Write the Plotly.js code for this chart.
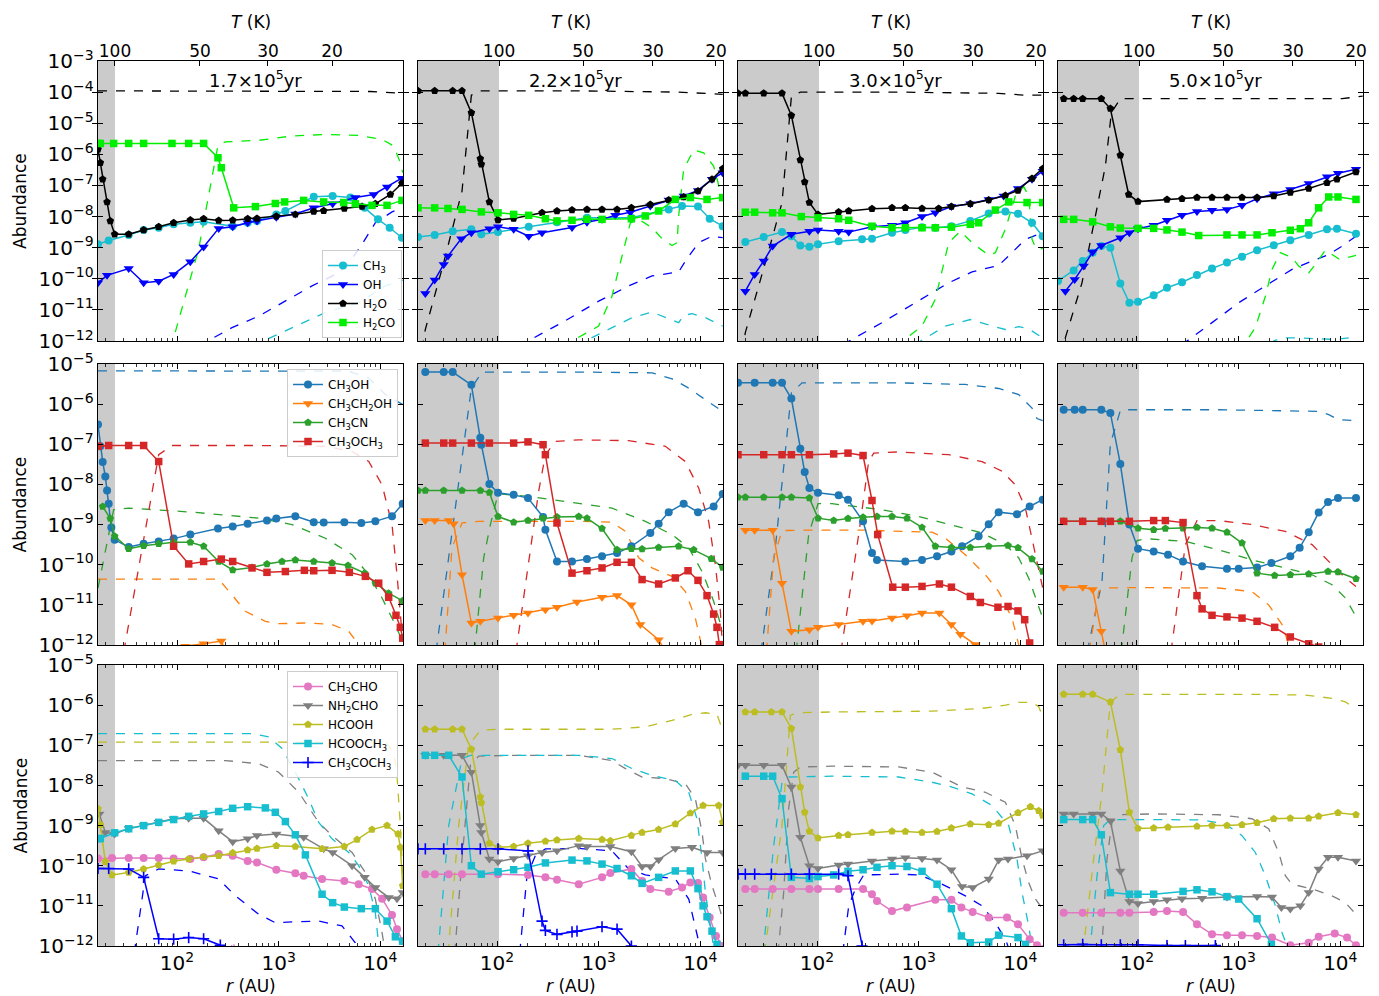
<!DOCTYPE html>
<html><head><meta charset="utf-8">
<script src="https://cdn.plot.ly/plotly-3.0.1.min.js"></script>
<style>html,body{margin:0;padding:0;background:#fff}#chart{width:1379px;height:996px}</style>
</head><body><div id="chart"></div>
<script>
// Every point below is [log10(r / AU), log10(abundance)].
const timeLabels = ['1.7×10<sup>5</sup>yr', '2.2×10<sup>5</sup>yr', '3.0×10<sup>5</sup>yr', '5.0×10<sup>5</sup>yr'];
const tempTicks = [100, 50, 30, 20];
// log10(r/AU) where the temperature equals tempTicks, one list per time
const tempRadius1 = [1.39, 2.226, 2.895, 3.525];
const tempRadius2 = [2.02, 2.846, 3.534, 4.154];
const tempRadius3 = [2.02, 2.846, 3.534, 4.154];
const tempRadius4 = [2.02, 2.846, 3.534, 4.154];
// log10(r/AU) of the T > 100 K (shaded) region edge per time
const hotEdge = [1.39, 2.02, 2.02, 2.02];
const rRange = [1.223, 4.223];

// ---------- Row 1 : CH3, OH, H2O, H2CO ----------
const CH3_gas_1 = [[1.223,-8.89],[1.328,-8.77],[1.525,-8.59],[1.672,-8.43],[1.820,-8.36],[1.967,-8.25],[2.131,-8.20],[2.262,-8.17],[2.548,-8.31],[2.695,-8.20],[2.787,-8.14],[2.977,-7.93],[3.066,-7.82],[3.345,-7.36],[3.531,-7.34],[3.705,-7.39],[3.846,-7.72],[3.977,-8.09],[4.092,-8.36],[4.213,-8.68]];
const CH3_ice_1 = [[2.738,-12.16],[3.131,-11.57],[3.459,-11.09],[3.787,-10.77],[3.951,-10.45],[4.050,-10.23],[4.220,-10.04]];
const OH_gas_1 = [[1.223,-10.13],[1.312,-9.89],[1.525,-9.67],[1.672,-10.13],[1.820,-10.08],[1.967,-9.86],[2.131,-9.45],[2.262,-8.98],[2.410,-8.38],[2.548,-8.33],[2.695,-8.20],[2.787,-8.14],[2.977,-8.02],[3.164,-7.92],[3.345,-7.72],[3.531,-7.59],[3.754,-7.39],[3.935,-7.29],[4.066,-7.05],[4.207,-6.77]];
const OH_ice_1 = [[2.213,-12.16],[2.541,-11.57],[2.804,-11.20],[3.066,-10.72],[3.328,-10.23],[3.590,-9.81],[3.705,-9.43],[3.820,-8.89],[3.951,-8.20],[4.115,-7.85],[4.220,-7.72]];
const H2O_gas_1 = [[1.223,-5.84],[1.246,-6.27],[1.269,-6.80],[1.312,-7.53],[1.344,-8.14],[1.387,-8.57],[1.525,-8.57],[1.672,-8.43],[1.820,-8.33],[1.967,-8.20],[2.131,-8.11],[2.262,-8.07],[2.410,-8.13],[2.548,-8.12],[2.695,-8.07],[2.787,-8.06],[2.977,-7.99],[3.164,-7.93],[3.345,-7.84],[3.443,-7.81],[3.646,-7.74],[3.820,-7.68],[3.951,-7.59],[4.099,-7.29],[4.213,-6.93]];
const H2O_ice_1 = [[1.223,-3.96],[3.600,-3.96],[3.900,-3.98],[4.220,-4.04]];
const H2CO_gas_1 = [[1.223,-5.65],[1.246,-5.65],[1.377,-5.65],[1.525,-5.65],[1.672,-5.65],[1.951,-5.65],[2.115,-5.65],[2.262,-5.65],[2.403,-6.11],[2.436,-6.43],[2.558,-7.72],[2.771,-7.68],[2.967,-7.58],[3.059,-7.53],[3.246,-7.48],[3.443,-7.53],[3.640,-7.55],[3.754,-7.59],[3.918,-7.64],[4.066,-7.64],[4.213,-7.48]];
const H2CO_ice_1 = [[1.935,-12.27],[2.213,-9.05],[2.403,-5.71],[2.476,-5.60],[2.804,-5.55],[3.131,-5.41],[3.459,-5.36],[3.787,-5.39],[4.017,-5.52],[4.131,-5.73],[4.197,-6.27],[4.220,-6.59]];

const CH3_gas_2 = [[1.223,-8.66],[1.387,-8.59],[1.564,-8.47],[1.748,-8.41],[1.846,-8.57],[2.010,-8.50],[2.312,-8.33],[2.590,-8.18],[2.885,-8.04],[3.322,-8.04],[3.689,-7.77],[3.820,-7.66],[3.977,-7.68],[4.092,-8.07],[4.220,-8.31]];
const CH3_ice_2 = [[2.771,-12.16],[3.131,-11.57],[3.328,-11.25],[3.525,-11.07],[3.787,-11.41],[3.836,-11.18],[3.918,-11.12],[4.050,-11.25],[4.220,-11.52]];
const OH_gas_2 = [[1.295,-10.47],[1.387,-10.04],[1.476,-9.54],[1.518,-9.27],[1.649,-8.71],[1.748,-8.52],[1.925,-8.39],[2.010,-8.33],[2.164,-8.41],[2.312,-8.63],[2.443,-8.52],[2.738,-8.35],[2.885,-8.18],[3.033,-8.09],[3.164,-7.96],[3.312,-7.86],[3.508,-7.66],[3.689,-7.47],[3.836,-7.34],[3.977,-7.16],[4.115,-6.80],[4.220,-6.59]];
const OH_ice_2 = [[2.213,-12.16],[2.279,-12.04],[2.640,-11.41],[3.000,-10.72],[3.295,-10.23],[3.525,-9.91],[3.787,-9.78],[3.853,-9.43],[3.984,-8.84],[4.115,-8.63],[4.220,-8.68]];
const H2O_gas_2 = [[1.223,-3.96],[1.387,-3.96],[1.564,-3.96],[1.656,-3.96],[1.748,-4.66],[1.836,-6.14],[1.846,-6.32],[1.925,-7.53],[2.010,-8.11],[2.164,-8.06],[2.443,-7.88],[2.590,-7.82],[2.738,-7.79],[2.885,-7.77],[3.033,-7.77],[3.181,-7.77],[3.322,-7.72],[3.508,-7.61],[3.689,-7.47],[3.836,-7.37],[3.977,-7.18],[4.115,-6.80],[4.220,-6.46]];
const H2O_ice_2 = [[1.262,-12.27],[1.295,-11.63],[1.476,-9.48],[1.656,-7.18],[1.748,-4.10],[1.836,-3.96],[2.804,-3.96],[3.787,-4.00],[4.220,-4.07]];
const H2CO_gas_2 = [[1.223,-7.72],[1.387,-7.72],[1.518,-7.74],[1.656,-7.77],[1.846,-7.85],[2.010,-7.88],[2.164,-7.93],[2.312,-7.96],[2.476,-8.07],[2.590,-8.14],[2.738,-8.12],[2.885,-8.09],[3.033,-8.09],[3.322,-8.07],[3.459,-7.98],[3.590,-7.82],[3.754,-7.45],[3.902,-7.39],[4.066,-7.45],[4.220,-7.39]];
const H2CO_ice_2 = [[2.656,-12.22],[2.705,-12.06],[3.000,-11.52],[3.131,-10.56],[3.263,-8.84],[3.312,-8.20],[3.394,-8.09],[3.525,-8.36],[3.623,-8.71],[3.722,-8.93],[3.771,-8.84],[3.787,-7.98],[3.836,-6.48],[3.935,-5.86],[4.033,-5.95],[4.131,-6.38],[4.174,-6.91],[4.207,-7.45]];

const CH3_gas_3 = [[1.295,-8.82],[1.476,-8.66],[1.656,-8.50],[1.748,-8.63],[1.836,-8.93],[1.925,-8.97],[2.010,-8.89],[2.213,-8.79],[2.443,-8.73],[2.541,-8.71],[2.738,-8.52],[2.869,-8.43],[3.033,-8.34],[3.164,-8.36],[3.322,-8.31],[3.508,-8.14],[3.689,-7.90],[3.853,-7.84],[3.977,-7.91],[4.115,-8.20],[4.220,-8.63]];
const CH3_ice_3 = [[2.967,-12.16],[3.000,-12.04],[3.263,-11.52],[3.508,-11.31],[3.722,-11.52],[3.853,-11.63],[3.984,-11.54],[4.082,-11.61],[4.220,-11.90]];
const OH_gas_3 = [[1.295,-10.40],[1.387,-9.86],[1.476,-9.43],[1.564,-8.95],[1.748,-8.57],[1.925,-8.47],[2.010,-8.43],[2.213,-8.47],[2.312,-8.50],[2.541,-8.33],[2.738,-8.28],[2.869,-8.20],[3.033,-8.00],[3.164,-7.88],[3.322,-7.68],[3.508,-7.59],[3.689,-7.45],[3.836,-7.34],[3.977,-7.10],[4.115,-6.80],[4.220,-6.54]];
const OH_ice_3 = [[2.262,-12.16],[2.295,-12.04],[2.640,-11.41],[3.000,-10.72],[3.295,-10.13],[3.525,-9.78],[3.689,-9.64],[3.787,-9.57],[3.918,-9.16],[4.050,-8.73],[4.220,-8.52]];
const H2O_gas_3 = [[1.223,-4.04],[1.295,-4.04],[1.476,-4.04],[1.656,-4.04],[1.748,-4.75],[1.836,-6.18],[1.879,-6.89],[1.925,-7.55],[2.010,-7.93],[2.213,-7.85],[2.312,-7.82],[2.541,-7.75],[2.738,-7.72],[2.869,-7.72],[3.033,-7.74],[3.197,-7.74],[3.322,-7.68],[3.508,-7.59],[3.689,-7.47],[3.853,-7.32],[3.977,-7.16],[4.115,-6.78],[4.220,-6.46]];
const H2O_ice_3 = [[1.262,-12.38],[1.295,-11.73],[1.492,-9.48],[1.656,-7.55],[1.748,-4.15],[1.836,-4.00],[2.804,-4.00],[3.787,-4.04],[4.050,-4.10],[4.220,-4.10]];
const H2CO_gas_3 = [[1.295,-7.86],[1.387,-7.86],[1.564,-7.88],[1.656,-7.88],[1.846,-8.00],[2.010,-8.04],[2.213,-8.07],[2.312,-8.12],[2.541,-8.31],[2.738,-8.36],[2.869,-8.36],[3.033,-8.36],[3.164,-8.36],[3.322,-8.34],[3.508,-8.25],[3.590,-8.20],[3.754,-7.79],[3.886,-7.53],[4.066,-7.55],[4.220,-7.55]];
const H2CO_ice_3 = [[2.787,-12.22],[2.820,-12.06],[3.033,-11.52],[3.164,-10.66],[3.295,-8.84],[3.410,-8.47],[3.525,-8.84],[3.689,-9.25],[3.754,-9.16],[3.853,-8.41],[3.951,-7.34],[4.033,-7.04],[4.082,-7.34],[4.115,-8.73],[4.154,-9.03],[4.220,-9.03]];

const CH3_gas_4 = [[1.223,-10.07],[1.377,-9.73],[1.466,-9.43],[1.564,-9.16],[1.649,-8.95],[1.738,-9.00],[1.836,-10.15],[1.925,-10.77],[2.010,-10.74],[2.164,-10.53],[2.295,-10.29],[2.443,-10.11],[2.590,-9.88],[2.738,-9.67],[2.885,-9.48],[3.033,-9.29],[3.181,-9.08],[3.345,-8.92],[3.508,-8.76],[3.689,-8.59],[3.869,-8.41],[3.967,-8.39],[4.154,-8.55]];
const CH3_ice_4 = [[3.328,-12.16],[3.345,-12.00],[3.427,-11.90],[3.590,-11.90],[3.787,-11.93],[3.951,-11.95],[4.154,-11.87]];
const OH_gas_4 = [[1.295,-10.40],[1.387,-10.02],[1.476,-9.59],[1.564,-9.14],[1.649,-8.93],[1.836,-8.68],[1.925,-8.52],[2.010,-8.39],[2.164,-8.28],[2.295,-8.12],[2.443,-7.96],[2.590,-7.84],[2.738,-7.80],[2.885,-7.77],[3.033,-7.64],[3.181,-7.43],[3.345,-7.27],[3.508,-7.13],[3.689,-6.94],[3.869,-6.72],[3.977,-6.61],[4.154,-6.48]];
const OH_ice_4 = [[2.443,-12.16],[2.476,-12.04],[2.738,-11.41],[3.000,-10.77],[3.263,-10.23],[3.525,-9.70],[3.722,-9.43],[3.886,-9.22],[4.017,-8.95],[4.154,-8.63]];
const H2O_gas_4 = [[1.279,-4.21],[1.377,-4.21],[1.466,-4.21],[1.649,-4.21],[1.738,-4.53],[1.836,-6.03],[1.918,-7.29],[2.010,-7.52],[2.295,-7.45],[2.443,-7.43],[2.590,-7.39],[2.738,-7.39],[2.885,-7.39],[3.033,-7.39],[3.181,-7.39],[3.345,-7.34],[3.508,-7.23],[3.689,-7.10],[3.869,-6.91],[3.967,-6.80],[4.154,-6.57]];
const H2O_ice_4 = [[1.262,-12.49],[1.295,-11.90],[1.459,-10.13],[1.590,-7.98],[1.689,-6.38],[1.748,-4.66],[1.836,-4.21],[2.804,-4.21],[4.017,-4.21],[4.220,-4.13]];
const H2CO_gas_4 = [[1.279,-8.09],[1.377,-8.09],[1.564,-8.17],[1.738,-8.33],[1.836,-8.37],[2.010,-8.38],[2.164,-8.38],[2.295,-8.43],[2.443,-8.50],[2.607,-8.61],[2.885,-8.59],[3.033,-8.59],[3.181,-8.59],[3.328,-8.52],[3.508,-8.44],[3.607,-8.39],[3.689,-8.20],[3.787,-7.72],[3.886,-7.37],[3.977,-7.37],[4.154,-7.45]];
const H2CO_ice_4 = [[2.967,-12.22],[3.066,-12.06],[3.164,-11.57],[3.263,-10.56],[3.328,-9.70],[3.410,-9.16],[3.525,-9.32],[3.590,-9.59],[3.689,-9.81],[3.754,-9.54],[3.853,-9.08],[3.918,-9.22],[3.984,-9.36],[4.066,-9.32],[4.154,-9.25]];

// ---------- Row 2 : CH3OH, CH3CH2OH, CH3CN, CH3OCH3 ----------
const CH3OH_gas_1 = [[1.223,-6.51],[1.246,-7.05],[1.269,-7.44],[1.295,-7.80],[1.312,-8.15],[1.328,-8.48],[1.354,-9.07],[1.387,-9.38],[1.525,-9.56],[1.672,-9.48],[1.820,-9.42],[1.967,-9.35],[2.131,-9.25],[2.403,-9.10],[2.548,-9.05],[2.695,-8.98],[2.885,-8.90],[2.977,-8.85],[3.164,-8.79],[3.345,-8.94],[3.443,-8.95],[3.646,-8.94],[3.813,-8.96],[3.951,-8.92],[4.115,-8.79],[4.220,-8.48]];
const CH3OH_ice_1 = [[1.223,-5.17],[3.000,-5.17],[3.689,-5.18],[3.886,-5.35],[4.050,-5.76],[4.220,-6.01]];
const C2H5OH_gas_1 = [[1.918,-12.16],[2.082,-12.03],[2.262,-11.97],[2.436,-11.90],[2.476,-12.16]];
const C2H5OH_ice_1 = [[1.223,-10.36],[2.410,-10.36],[2.541,-10.75],[2.672,-11.16],[2.869,-11.41],[3.000,-11.47],[3.295,-11.45],[3.525,-11.49],[3.689,-11.66],[3.787,-11.99],[3.820,-12.16]];
const CH3CN_gas_1 = [[1.269,-8.55],[1.344,-8.85],[1.387,-9.29],[1.525,-9.60],[1.672,-9.53],[1.820,-9.48],[1.967,-9.44],[2.131,-9.44],[2.262,-9.54],[2.410,-9.92],[2.548,-10.13],[2.738,-10.07],[2.885,-9.98],[3.033,-9.92],[3.164,-9.88],[3.345,-9.92],[3.525,-9.96],[3.682,-10.02],[3.846,-10.21],[3.951,-10.46],[4.082,-10.71],[4.220,-10.90]];
const CH3CN_ice_1 = [[1.223,-10.58],[1.377,-8.63],[1.525,-8.59],[2.148,-8.69],[2.804,-8.84],[3.131,-9.00],[3.459,-9.34],[3.722,-9.75],[3.886,-10.25],[4.017,-10.83],[4.115,-11.33],[4.220,-11.91]];
const CH3OCH3_gas_1 = [[1.223,-7.05],[1.328,-7.03],[1.525,-7.03],[1.672,-7.03],[1.820,-7.43],[1.967,-9.54],[2.115,-9.98],[2.262,-9.92],[2.436,-9.86],[2.548,-9.92],[2.738,-10.08],[2.885,-10.19],[3.066,-10.17],[3.253,-10.14],[3.345,-10.15],[3.525,-10.14],[3.695,-10.19],[3.853,-10.29],[3.984,-10.46],[4.082,-10.81],[4.154,-11.26],[4.197,-11.56],[4.220,-11.83]];
const CH3OCH3_ice_1 = [[1.476,-12.16],[1.492,-11.95],[1.820,-7.26],[1.951,-7.03],[2.804,-7.03],[3.459,-7.05],[3.722,-7.18],[3.886,-7.43],[4.017,-8.01],[4.115,-9.00],[4.164,-10.25],[4.220,-11.91]];

const CH3OH_gas_2 = [[1.295,-5.20],[1.476,-5.20],[1.564,-5.20],[1.748,-5.52],[1.836,-6.84],[1.846,-7.01],[1.925,-7.99],[2.010,-8.21],[2.164,-8.26],[2.305,-8.34],[2.453,-8.81],[2.476,-9.13],[2.590,-9.92],[2.738,-9.92],[2.885,-9.86],[3.033,-9.79],[3.181,-9.71],[3.322,-9.54],[3.508,-9.21],[3.590,-8.98],[3.689,-8.69],[3.836,-8.48],[3.977,-8.69],[4.131,-8.55],[4.220,-8.24]];
const CH3OH_ice_2 = [[1.394,-12.16],[1.410,-11.99],[1.748,-5.60],[1.853,-5.20],[2.804,-5.20],[3.525,-5.22],[3.722,-5.37],[3.886,-5.60],[4.050,-5.89],[4.220,-6.18]];
const C2H5OH_gas_2 = [[1.295,-8.90],[1.387,-8.90],[1.525,-8.90],[1.574,-8.98],[1.656,-10.25],[1.748,-11.45],[1.836,-11.41],[2.010,-11.33],[2.164,-11.26],[2.305,-11.20],[2.476,-11.12],[2.590,-11.06],[2.787,-10.93],[3.033,-10.81],[3.181,-10.77],[3.322,-11.00],[3.410,-11.49],[3.590,-11.87],[3.656,-12.16]];
const C2H5OH_ice_2 = [[1.476,-12.16],[1.492,-11.99],[1.557,-9.58],[1.656,-8.96],[1.820,-8.92],[2.148,-8.92],[2.804,-8.92],[3.131,-8.94],[3.263,-9.17],[3.394,-9.83],[3.525,-10.08],[3.722,-10.29],[3.853,-10.67],[3.951,-11.33],[4.017,-11.99],[4.025,-12.16]];
const CH3CN_gas_2 = [[1.223,-8.15],[1.295,-8.15],[1.476,-8.15],[1.656,-8.15],[1.836,-8.15],[1.925,-8.20],[2.010,-8.80],[2.164,-8.94],[2.305,-8.90],[2.453,-8.84],[2.590,-8.81],[2.804,-8.80],[2.885,-8.84],[3.033,-9.10],[3.181,-9.63],[3.322,-9.60],[3.427,-9.61],[3.590,-9.57],[3.787,-9.54],[3.935,-9.63],[4.108,-9.85],[4.220,-10.07]];
const CH3CN_ice_2 = [[1.771,-12.16],[1.787,-11.99],[1.869,-9.83],[1.935,-9.00],[2.000,-8.34],[2.033,-8.24],[2.312,-8.30],[2.640,-8.42],[3.131,-8.59],[3.459,-8.92],[3.722,-9.25],[3.886,-9.58],[4.017,-10.17],[4.131,-10.91],[4.220,-11.66]];
const CH3OCH3_gas_2 = [[1.295,-6.97],[1.476,-6.97],[1.564,-6.97],[1.748,-6.97],[1.925,-6.97],[2.164,-6.97],[2.305,-6.94],[2.453,-7.01],[2.476,-7.26],[2.590,-8.96],[2.738,-10.21],[2.885,-10.15],[3.033,-10.08],[3.181,-9.94],[3.322,-9.94],[3.427,-10.37],[3.590,-10.48],[3.754,-10.33],[3.879,-10.15],[3.977,-10.39],[4.066,-10.77],[4.131,-11.23],[4.164,-11.56],[4.187,-11.99],[4.195,-12.20]];
const CH3OCH3_ice_2 = [[2.180,-12.16],[2.197,-11.99],[2.410,-8.17],[2.476,-7.26],[2.574,-6.93],[2.804,-6.89],[3.295,-6.91],[3.656,-7.05],[3.853,-7.43],[3.984,-8.09],[4.082,-8.92],[4.148,-10.00],[4.197,-11.16],[4.220,-12.16]];

const CH3OH_gas_3 = [[1.223,-5.47],[1.387,-5.47],[1.564,-5.47],[1.656,-5.47],[1.748,-5.86],[1.836,-7.11],[1.879,-7.69],[1.925,-8.09],[2.010,-8.21],[2.213,-8.27],[2.305,-8.38],[2.453,-8.92],[2.541,-9.71],[2.590,-9.88],[2.869,-9.92],[3.033,-9.88],[3.181,-9.79],[3.322,-9.67],[3.427,-9.54],[3.590,-9.29],[3.689,-8.99],[3.787,-8.69],[3.967,-8.74],[4.092,-8.55],[4.220,-8.38]];
const CH3OH_ice_3 = [[1.443,-12.16],[1.459,-11.99],[1.590,-9.58],[1.748,-5.72],[1.853,-5.47],[2.804,-5.47],[3.459,-5.51],[3.787,-5.61],[3.984,-5.76],[4.115,-6.10],[4.164,-6.36],[4.220,-6.41]];
const C2H5OH_gas_3 = [[1.295,-9.14],[1.387,-9.14],[1.564,-9.14],[1.656,-10.46],[1.748,-11.66],[1.925,-11.62],[2.010,-11.56],[2.213,-11.49],[2.453,-11.41],[2.541,-11.40],[2.738,-11.33],[2.885,-11.27],[3.033,-11.20],[3.204,-11.20],[3.322,-11.49],[3.410,-11.73],[3.558,-11.99],[3.600,-12.16]];
const C2H5OH_ice_3 = [[1.492,-12.16],[1.508,-11.99],[1.574,-9.83],[1.656,-9.15],[1.820,-9.14],[2.476,-9.14],[3.131,-9.19],[3.263,-9.34],[3.459,-9.75],[3.656,-10.25],[3.787,-10.67],[3.918,-11.33],[3.984,-11.99],[3.990,-12.16]];
const CH3CN_gas_3 = [[1.223,-8.32],[1.295,-8.32],[1.476,-8.32],[1.656,-8.32],[1.748,-8.32],[1.925,-8.34],[2.010,-8.84],[2.164,-8.90],[2.305,-8.85],[2.453,-8.82],[2.590,-8.80],[2.738,-8.80],[2.885,-8.84],[3.033,-9.07],[3.164,-9.54],[3.322,-9.57],[3.508,-9.57],[3.689,-9.54],[3.879,-9.52],[3.977,-9.58],[4.115,-9.86],[4.220,-10.17]];
const CH3CN_ice_3 = [[1.787,-12.16],[1.803,-11.99],[1.918,-9.25],[2.010,-8.48],[2.148,-8.48],[2.640,-8.63],[3.000,-8.80],[3.295,-9.00],[3.623,-9.21],[3.853,-9.50],[3.984,-9.83],[4.082,-10.33],[4.148,-10.83],[4.220,-11.33]];
const CH3OCH3_gas_3 = [[1.223,-7.26],[1.476,-7.26],[1.656,-7.26],[1.748,-7.26],[1.925,-7.26],[2.164,-7.24],[2.305,-7.22],[2.453,-7.28],[2.541,-8.40],[2.597,-9.25],[2.745,-10.56],[2.869,-10.56],[3.033,-10.54],[3.204,-10.48],[3.322,-10.56],[3.508,-10.79],[3.607,-10.94],[3.780,-11.06],[3.879,-11.04],[3.977,-11.15],[4.043,-11.37],[4.092,-11.95],[4.100,-12.20]];
const CH3OCH3_ice_3 = [[2.230,-12.16],[2.246,-11.99],[2.410,-9.25],[2.508,-7.43],[2.558,-7.22],[2.804,-7.19],[3.295,-7.26],[3.623,-7.43],[3.820,-7.67],[3.951,-8.01],[4.050,-8.59],[4.131,-9.50],[4.220,-10.58]];

const CH3OH_gas_4 = [[1.279,-6.14],[1.387,-6.14],[1.466,-6.14],[1.649,-6.14],[1.738,-6.22],[1.836,-7.49],[1.925,-9.00],[2.010,-9.60],[2.164,-9.67],[2.305,-9.75],[2.453,-9.92],[2.640,-10.04],[2.885,-10.10],[3.000,-10.10],[3.181,-10.07],[3.322,-9.96],[3.508,-9.79],[3.600,-9.58],[3.689,-9.19],[3.787,-8.70],[3.879,-8.44],[3.977,-8.34],[4.154,-8.34]];
const CH3OH_ice_4 = [[1.508,-12.16],[1.525,-11.99],[1.656,-10.42],[1.738,-6.99],[1.836,-6.16],[1.918,-6.14],[2.804,-6.14],[3.459,-6.16],[3.787,-6.18],[3.886,-6.26],[3.984,-6.39],[4.154,-6.41]];
const C2H5OH_gas_4 = [[1.279,-10.56],[1.466,-10.56],[1.564,-10.62],[1.649,-11.66],[1.689,-12.16]];
const C2H5OH_ice_4 = [[1.525,-12.16],[1.541,-11.99],[1.623,-10.67],[1.689,-10.58],[1.984,-10.57],[2.804,-10.58],[3.131,-10.67],[3.295,-11.00],[3.427,-11.49],[3.492,-11.99],[3.500,-12.16]];
const CH3CN_gas_4 = [[1.279,-8.92],[1.466,-8.92],[1.649,-8.92],[1.836,-8.92],[2.010,-9.09],[2.164,-9.13],[2.279,-9.10],[2.453,-9.09],[2.590,-9.07],[2.738,-9.09],[2.885,-9.19],[3.033,-9.46],[3.181,-10.21],[3.354,-10.27],[3.508,-10.25],[3.689,-10.23],[3.879,-10.17],[3.977,-10.18],[4.154,-10.35]];
const CH3CN_ice_4 = [[1.836,-12.16],[1.853,-11.99],[1.951,-9.83],[2.000,-9.40],[2.082,-9.35],[2.476,-9.42],[2.804,-9.63],[3.131,-9.88],[3.459,-10.08],[3.722,-10.25],[3.918,-10.50],[4.050,-10.83],[4.154,-11.29]];
const CH3OCH3_gas_4 = [[1.279,-8.92],[1.466,-8.92],[1.649,-8.92],[1.738,-8.92],[1.925,-8.92],[2.164,-8.90],[2.279,-8.90],[2.453,-8.95],[2.590,-10.77],[2.640,-11.10],[2.738,-11.26],[2.885,-11.30],[3.033,-11.33],[3.181,-11.41],[3.354,-11.56],[3.508,-11.80],[3.689,-11.97],[3.787,-12.05],[3.951,-12.16]];
const CH3OCH3_ice_4 = [[2.330,-12.16],[2.344,-11.99],[2.476,-9.50],[2.590,-8.90],[2.804,-8.90],[3.131,-9.00],[3.459,-9.17],[3.722,-9.50],[3.918,-10.00],[4.050,-10.33],[4.154,-10.54]];

// ---------- Row 3 : CH3CHO, NH2CHO, HCOOH, HCOOCH3, CH3COCH3 ----------
const CH3CHO_gas_1 = [[1.223,-9.82],[1.361,-9.81],[1.525,-9.81],[1.672,-9.81],[1.820,-9.81],[1.967,-9.82],[2.131,-9.83],[2.262,-9.79],[2.410,-9.71],[2.548,-9.75],[2.695,-9.88],[2.787,-9.92],[2.977,-10.10],[3.164,-10.19],[3.246,-10.25],[3.427,-10.33],[3.646,-10.38],[3.787,-10.46],[3.918,-10.58],[4.017,-10.82],[4.115,-11.23],[4.164,-11.58],[4.220,-11.88]];
const CH3CHO_ice_1 = [[2.520,-12.20],[2.550,-11.86],[2.580,-12.20]];
const NH2CHO_gas_1 = [[1.236,-8.71],[1.295,-9.17],[1.387,-9.21],[1.525,-9.07],[1.672,-9.00],[1.820,-8.92],[1.967,-8.83],[2.115,-8.82],[2.262,-8.82],[2.410,-9.13],[2.548,-9.40],[2.695,-9.33],[2.787,-9.25],[2.977,-9.21],[3.246,-9.29],[3.443,-9.58],[3.531,-9.67],[3.722,-10.00],[3.846,-10.29],[3.951,-10.54],[4.082,-10.79],[4.164,-10.82],[4.220,-10.67]];
const NH2CHO_ice_1 = [[1.223,-7.38],[2.476,-7.38],[2.804,-7.46],[3.000,-7.67],[3.197,-8.17],[3.394,-8.92],[3.525,-9.25],[3.722,-9.67],[3.853,-10.17],[3.951,-10.83],[4.017,-11.67],[4.050,-12.17]];
const HCOOH_gas_1 = [[1.223,-8.58],[1.246,-8.98],[1.295,-9.90],[1.361,-10.23],[1.525,-10.17],[1.672,-10.08],[1.820,-9.98],[1.967,-9.89],[2.115,-9.83],[2.262,-9.78],[2.410,-9.75],[2.548,-9.68],[2.695,-9.61],[2.787,-9.57],[2.977,-9.50],[3.164,-9.52],[3.427,-9.58],[3.646,-9.52],[3.771,-9.35],[3.918,-9.10],[4.066,-9.00],[4.174,-9.21],[4.197,-9.54],[4.220,-10.50]];
const HCOOH_ice_1 = [[1.223,-6.92],[4.050,-6.92],[4.131,-7.17],[4.164,-7.75],[4.197,-9.00],[4.220,-10.25]];
const HCOOCH3_gas_1 = [[1.223,-9.33],[1.246,-9.32],[1.387,-9.18],[1.525,-9.08],[1.672,-9.00],[1.820,-8.92],[1.967,-8.85],[2.115,-8.77],[2.262,-8.71],[2.410,-8.65],[2.548,-8.57],[2.695,-8.53],[2.869,-8.56],[2.967,-8.67],[3.066,-8.90],[3.164,-9.23],[3.263,-9.73],[3.427,-10.71],[3.531,-10.92],[3.646,-11.03],[3.813,-11.07],[3.951,-11.07],[4.066,-11.38],[4.148,-11.77],[4.220,-11.88]];
const HCOOCH3_ice_1 = [[1.223,-6.71],[2.738,-6.71],[2.902,-6.79],[3.033,-7.08],[3.164,-7.67],[3.295,-8.33],[3.394,-8.92],[3.525,-9.33],[3.689,-9.67],[3.787,-10.00],[3.886,-10.50],[3.951,-11.17],[3.984,-11.98],[3.990,-12.17]];
const CH3COCH3_gas_1 = [[1.223,-10.07],[1.328,-10.07],[1.525,-10.08],[1.672,-10.29],[1.820,-11.82],[1.967,-11.83],[2.115,-11.79],[2.262,-11.82],[2.426,-11.98],[2.476,-12.17]];
const CH3COCH3_ice_1 = [[1.580,-12.17],[1.590,-12.00],[1.689,-10.25],[1.820,-10.08],[2.115,-10.13],[2.410,-10.33],[2.574,-10.75],[2.804,-11.21],[2.967,-11.42],[3.131,-11.40],[3.394,-11.38],[3.623,-11.50],[3.754,-11.92],[3.787,-12.17]];

const CH3CHO_gas_2 = [[1.295,-10.21],[1.387,-10.21],[1.525,-10.21],[1.656,-10.21],[2.010,-10.21],[2.305,-10.23],[2.476,-10.29],[2.590,-10.35],[2.804,-10.46],[3.033,-10.29],[3.115,-10.18],[3.322,-10.08],[3.427,-10.38],[3.508,-10.58],[3.689,-10.65],[3.820,-10.54],[3.902,-10.42],[3.977,-10.43],[4.027,-10.79],[4.092,-11.29],[4.154,-11.75],[4.220,-12.00]];
const CH3CHO_ice_2 = [];
const NH2CHO_gas_2 = [[1.295,-7.25],[1.476,-7.25],[1.656,-7.25],[1.748,-7.67],[1.836,-9.00],[1.846,-9.17],[1.925,-9.83],[2.010,-9.90],[2.164,-9.82],[2.305,-9.75],[2.443,-9.67],[2.590,-9.63],[2.804,-9.50],[2.885,-9.52],[3.115,-9.52],[3.322,-9.65],[3.427,-10.02],[3.508,-10.02],[3.590,-9.85],[3.754,-9.57],[3.918,-9.54],[4.066,-9.67],[4.220,-9.67]];
const NH2CHO_ice_2 = [[1.580,-12.17],[1.590,-12.00],[1.656,-9.83],[1.738,-7.50],[1.820,-7.27],[2.148,-7.25],[2.804,-7.25],[3.131,-7.38],[3.263,-7.58],[3.427,-7.79],[3.656,-7.83],[3.853,-7.96],[3.951,-8.33],[4.017,-9.17],[4.050,-9.83],[4.115,-10.50],[4.181,-11.00],[4.220,-11.33]];
const HCOOH_gas_2 = [[1.295,-6.60],[1.387,-6.60],[1.564,-6.60],[1.656,-6.60],[1.748,-7.10],[1.836,-8.29],[1.846,-8.43],[1.925,-9.44],[2.010,-9.54],[2.164,-9.52],[2.305,-9.44],[2.476,-9.39],[2.590,-9.36],[2.804,-9.32],[3.033,-9.35],[3.115,-9.38],[3.322,-9.25],[3.427,-9.17],[3.590,-9.10],[3.754,-8.96],[3.902,-8.69],[4.027,-8.50],[4.181,-8.50],[4.220,-8.92]];
const HCOOH_ice_2 = [[1.508,-12.17],[1.525,-12.00],[1.623,-9.00],[1.721,-7.00],[1.836,-6.63],[2.000,-6.60],[3.131,-6.60],[3.459,-6.54],[3.722,-6.38],[3.918,-6.23],[4.050,-6.19],[4.164,-6.23],[4.220,-6.63]];
const HCOOCH3_gas_2 = [[1.295,-7.25],[1.387,-7.25],[1.525,-7.25],[1.656,-7.79],[1.748,-10.00],[1.846,-10.21],[2.010,-10.15],[2.164,-10.10],[2.305,-10.04],[2.476,-9.93],[2.738,-9.86],[2.885,-9.88],[3.033,-9.96],[3.181,-10.07],[3.322,-10.25],[3.427,-10.44],[3.590,-10.29],[3.754,-10.13],[3.902,-10.13],[3.977,-10.57],[4.027,-11.00],[4.066,-11.27],[4.115,-11.63],[4.164,-11.96],[4.180,-12.20]];
const HCOOCH3_ice_2 = [[1.420,-12.17],[1.426,-12.00],[1.525,-9.00],[1.656,-7.33],[1.738,-7.25],[2.148,-7.25],[2.804,-7.25],[3.131,-7.33],[3.328,-7.58],[3.525,-7.75],[3.754,-7.88],[3.886,-8.17],[3.967,-8.83],[4.017,-9.83],[4.050,-10.67],[4.099,-11.50],[4.131,-12.00],[4.140,-12.17]];
const CH3COCH3_gas_2 = [[1.223,-9.58],[1.295,-9.58],[1.476,-9.58],[1.656,-9.58],[1.836,-9.58],[2.010,-9.58],[2.305,-9.63],[2.443,-11.38],[2.476,-11.61],[2.590,-11.71],[2.738,-11.65],[2.787,-11.63],[3.033,-11.52],[3.181,-11.58],[3.322,-12.00],[3.361,-12.17]];
const CH3COCH3_ice_2 = [[2.222,-12.17],[2.230,-12.00],[2.295,-10.25],[2.377,-9.75],[2.476,-9.58],[2.804,-9.57],[3.131,-9.63],[3.295,-10.08],[3.459,-10.23],[3.754,-10.33],[3.886,-10.83],[3.951,-11.50],[4.000,-12.00],[4.010,-12.17]];

const CH3CHO_gas_3 = [[1.295,-10.58],[1.387,-10.58],[1.564,-10.58],[1.748,-10.58],[1.925,-10.58],[2.010,-10.58],[2.213,-10.58],[2.453,-10.58],[2.541,-10.71],[2.590,-10.88],[2.738,-11.13],[2.885,-11.04],[3.164,-10.85],[3.322,-10.85],[3.420,-11.04],[3.531,-11.15],[3.689,-11.29],[3.869,-11.29],[3.977,-11.46],[4.092,-11.83],[4.164,-11.98],[4.220,-12.08]];
const CH3CHO_ice_3 = [];
const NH2CHO_gas_3 = [[1.223,-7.50],[1.295,-7.50],[1.476,-7.50],[1.656,-7.50],[1.748,-8.04],[1.836,-9.29],[1.925,-10.00],[2.010,-10.07],[2.213,-9.98],[2.305,-9.96],[2.541,-9.88],[2.738,-9.83],[2.869,-9.80],[3.033,-9.82],[3.181,-9.86],[3.322,-10.10],[3.427,-10.52],[3.531,-10.54],[3.689,-10.33],[3.787,-9.86],[3.879,-9.83],[4.066,-9.75],[4.220,-9.63]];
const NH2CHO_ice_3 = [[1.600,-12.17],[1.623,-12.00],[1.672,-10.67],[1.721,-8.58],[1.771,-7.67],[1.836,-7.54],[2.148,-7.52],[2.804,-7.54],[3.131,-7.67],[3.295,-7.88],[3.427,-8.04],[3.656,-8.17],[3.853,-8.42],[3.951,-9.00],[4.017,-9.83],[4.082,-10.42],[4.148,-10.83],[4.220,-11.08]];
const HCOOH_gas_3 = [[1.295,-6.17],[1.387,-6.17],[1.551,-6.17],[1.656,-6.17],[1.748,-6.58],[1.836,-8.04],[1.879,-8.67],[1.925,-9.14],[2.010,-9.31],[2.213,-9.25],[2.305,-9.23],[2.541,-9.17],[2.738,-9.14],[2.869,-9.15],[3.033,-9.17],[3.181,-9.15],[3.322,-9.06],[3.508,-8.96],[3.689,-8.98],[3.787,-8.94],[3.977,-8.68],[4.099,-8.53],[4.181,-8.63],[4.220,-8.75]];
const HCOOH_ice_3 = [[1.480,-12.17],[1.492,-12.00],[1.656,-9.00],[1.738,-6.25],[1.820,-6.19],[2.148,-6.17],[3.131,-6.15],[3.623,-6.08],[3.853,-6.00],[3.984,-5.93],[4.115,-5.93],[4.181,-6.04],[4.220,-6.29]];
const HCOOCH3_gas_3 = [[1.295,-7.77],[1.476,-7.77],[1.564,-7.77],[1.656,-8.33],[1.748,-10.29],[1.925,-10.32],[2.010,-10.27],[2.164,-10.23],[2.305,-10.14],[2.453,-10.10],[2.590,-10.04],[2.738,-10.00],[2.885,-10.02],[3.033,-10.14],[3.181,-10.46],[3.322,-11.07],[3.420,-11.75],[3.508,-11.92],[3.689,-11.90],[3.787,-11.73],[3.977,-11.79],[4.050,-11.96],[4.115,-12.17]];
const HCOOCH3_ice_3 = [[1.470,-12.17],[1.476,-12.00],[1.574,-9.50],[1.656,-7.92],[1.721,-7.79],[2.148,-7.77],[2.804,-7.79],[3.131,-7.92],[3.328,-8.04],[3.525,-8.21],[3.722,-8.50],[3.886,-9.00],[3.967,-9.83],[4.017,-10.67],[4.082,-11.50],[4.115,-12.00],[4.125,-12.17]];
const CH3COCH3_gas_3 = [[1.223,-10.21],[1.295,-10.21],[1.387,-10.21],[1.551,-10.21],[1.748,-10.21],[1.925,-10.21],[2.213,-10.21],[2.305,-10.25],[2.443,-12.00],[2.459,-12.17]];
const CH3COCH3_ice_3 = [[2.246,-12.17],[2.262,-12.00],[2.312,-11.00],[2.377,-10.58],[2.459,-10.23],[2.804,-10.21],[3.000,-10.23],[3.197,-10.42],[3.459,-10.75],[3.623,-11.00],[3.754,-11.42],[3.853,-11.83],[3.902,-12.17]];

const CH3CHO_gas_4 = [[1.279,-11.17],[1.466,-11.17],[1.649,-11.17],[1.836,-11.17],[1.925,-11.17],[2.164,-11.15],[2.295,-11.13],[2.453,-11.15],[2.590,-11.46],[2.738,-11.71],[2.885,-11.73],[3.033,-11.73],[3.181,-11.75],[3.328,-11.79],[3.508,-11.98],[3.689,-11.92],[3.787,-11.77],[3.945,-11.69],[4.066,-11.79],[4.154,-11.98]];
const CH3CHO_ice_4 = [];
const NH2CHO_gas_4 = [[1.279,-8.71],[1.377,-8.71],[1.564,-8.71],[1.649,-8.71],[1.738,-8.88],[1.836,-10.13],[1.925,-10.89],[2.010,-10.94],[2.164,-10.89],[2.295,-10.85],[2.443,-10.82],[2.640,-10.81],[2.885,-10.78],[3.181,-10.77],[3.328,-10.78],[3.420,-11.04],[3.508,-11.08],[3.607,-11.00],[3.689,-10.67],[3.787,-10.08],[3.879,-9.79],[3.977,-9.79],[4.154,-9.88]];
const NH2CHO_ice_4 = [[1.650,-12.17],[1.656,-12.00],[1.705,-9.83],[1.754,-8.92],[1.836,-8.73],[2.148,-8.71],[2.804,-8.73],[3.131,-8.83],[3.295,-9.08],[3.394,-9.67],[3.459,-10.25],[3.525,-10.46],[3.722,-10.58],[3.918,-10.75],[4.050,-10.92],[4.154,-11.21]];
const HCOOH_gas_4 = [[1.279,-5.73],[1.466,-5.73],[1.564,-5.73],[1.738,-5.92],[1.836,-7.11],[1.925,-8.67],[2.010,-9.07],[2.164,-9.06],[2.305,-9.04],[2.590,-9.02],[2.738,-9.00],[2.885,-9.00],[3.033,-8.98],[3.181,-8.93],[3.345,-8.83],[3.508,-8.82],[3.689,-8.82],[3.787,-8.77],[3.977,-8.68],[4.154,-8.73]];
const HCOOH_ice_4 = [[1.466,-12.17],[1.476,-12.00],[1.574,-9.83],[1.656,-8.17],[1.738,-5.92],[1.836,-5.73],[2.148,-5.73],[3.131,-5.73],[3.656,-5.75],[3.918,-5.83],[4.050,-5.92],[4.154,-6.10]];
const HCOOCH3_gas_4 = [[1.279,-8.85],[1.466,-8.85],[1.564,-8.85],[1.649,-9.23],[1.738,-10.67],[1.925,-10.71],[2.010,-10.71],[2.164,-10.71],[2.453,-10.64],[2.590,-10.60],[2.738,-10.65],[2.885,-10.77],[3.000,-10.83],[3.181,-11.32],[3.322,-11.96],[3.345,-12.17]];
const HCOOCH3_ice_4 = [[1.535,-12.17],[1.541,-12.00],[1.607,-10.25],[1.672,-9.00],[1.738,-8.85],[2.148,-8.85],[2.640,-8.86],[2.869,-8.96],[3.033,-9.25],[3.164,-9.67],[3.263,-10.25],[3.361,-11.00],[3.427,-11.67],[3.476,-12.00],[3.490,-12.17]];
const CH3COCH3_gas_4 = [[1.279,-11.97],[1.466,-11.96],[1.649,-11.97],[1.836,-11.97],[2.010,-11.97],[2.295,-11.99],[2.476,-11.99],[2.771,-11.99]];
const CH3COCH3_ice_4 = [];

// ---------- assembly ----------
const rows = [
  { yRange: [-12, -3], species: [
    { name: 'CH<sub>3</sub>', color: '#17becf', symbol: 'circle', size: 8, gas: [CH3_gas_1, CH3_gas_2, CH3_gas_3, CH3_gas_4], ice: [CH3_ice_1, CH3_ice_2, CH3_ice_3, CH3_ice_4] },
    { name: 'OH', color: '#0000ff', symbol: 'triangle-down', size: 9, gas: [OH_gas_1, OH_gas_2, OH_gas_3, OH_gas_4], ice: [OH_ice_1, OH_ice_2, OH_ice_3, OH_ice_4] },
    { name: 'H<sub>2</sub>O', color: '#000000', symbol: 'pentagon', size: 8, gas: [H2O_gas_1, H2O_gas_2, H2O_gas_3, H2O_gas_4], ice: [H2O_ice_1, H2O_ice_2, H2O_ice_3, H2O_ice_4] },
    { name: 'H<sub>2</sub>CO', color: '#00ee00', symbol: 'square', size: 7.5, gas: [H2CO_gas_1, H2CO_gas_2, H2CO_gas_3, H2CO_gas_4], ice: [H2CO_ice_1, H2CO_ice_2, H2CO_ice_3, H2CO_ice_4] }
  ]},
  { yRange: [-12, -5], species: [
    { name: 'CH<sub>3</sub>OH', color: '#1f77b4', symbol: 'circle', size: 8, gas: [CH3OH_gas_1, CH3OH_gas_2, CH3OH_gas_3, CH3OH_gas_4], ice: [CH3OH_ice_1, CH3OH_ice_2, CH3OH_ice_3, CH3OH_ice_4] },
    { name: 'CH<sub>3</sub>CH<sub>2</sub>OH', color: '#ff7f0e', symbol: 'triangle-down', size: 9, gas: [C2H5OH_gas_1, C2H5OH_gas_2, C2H5OH_gas_3, C2H5OH_gas_4], ice: [C2H5OH_ice_1, C2H5OH_ice_2, C2H5OH_ice_3, C2H5OH_ice_4] },
    { name: 'CH<sub>3</sub>CN', color: '#2ca02c', symbol: 'pentagon', size: 8, gas: [CH3CN_gas_1, CH3CN_gas_2, CH3CN_gas_3, CH3CN_gas_4], ice: [CH3CN_ice_1, CH3CN_ice_2, CH3CN_ice_3, CH3CN_ice_4] },
    { name: 'CH<sub>3</sub>OCH<sub>3</sub>', color: '#d62728', symbol: 'square', size: 7.5, gas: [CH3OCH3_gas_1, CH3OCH3_gas_2, CH3OCH3_gas_3, CH3OCH3_gas_4], ice: [CH3OCH3_ice_1, CH3OCH3_ice_2, CH3OCH3_ice_3, CH3OCH3_ice_4] }
  ]},
  { yRange: [-12, -5], species: [
    { name: 'CH<sub>3</sub>CHO', color: '#e377c2', symbol: 'circle', size: 8, gas: [CH3CHO_gas_1, CH3CHO_gas_2, CH3CHO_gas_3, CH3CHO_gas_4], ice: [CH3CHO_ice_1, CH3CHO_ice_2, CH3CHO_ice_3, CH3CHO_ice_4] },
    { name: 'NH<sub>2</sub>CHO', color: '#7f7f7f', symbol: 'triangle-down', size: 9, gas: [NH2CHO_gas_1, NH2CHO_gas_2, NH2CHO_gas_3, NH2CHO_gas_4], ice: [NH2CHO_ice_1, NH2CHO_ice_2, NH2CHO_ice_3, NH2CHO_ice_4] },
    { name: 'HCOOH', color: '#bcbd22', symbol: 'pentagon', size: 8, gas: [HCOOH_gas_1, HCOOH_gas_2, HCOOH_gas_3, HCOOH_gas_4], ice: [HCOOH_ice_1, HCOOH_ice_2, HCOOH_ice_3, HCOOH_ice_4] },
    { name: 'HCOOCH<sub>3</sub>', color: '#17becf', symbol: 'square', size: 7.5, gas: [HCOOCH3_gas_1, HCOOCH3_gas_2, HCOOCH3_gas_3, HCOOCH3_gas_4], ice: [HCOOCH3_ice_1, HCOOCH3_ice_2, HCOOCH3_ice_3, HCOOCH3_ice_4] },
    { name: 'CH<sub>3</sub>COCH<sub>3</sub>', color: '#0000ff', symbol: 'cross-thin', size: 8, gas: [CH3COCH3_gas_1, CH3COCH3_gas_2, CH3COCH3_gas_3, CH3COCH3_gas_4], ice: [CH3COCH3_ice_1, CH3COCH3_ice_2, CH3COCH3_ice_3, CH3COCH3_ice_4] }
  ]}
];
const tempRadius = [tempRadius1, tempRadius2, tempRadius3, tempRadius4];

const W = 1379, H = 996;
const colPx = [[98, 403], [418, 723], [738, 1043], [1058, 1363]];
const rowPx = [[61, 341], [364, 645], [665, 946]];
const FONT = 'DejaVu Sans, Liberation Sans, sans-serif';

const pow10 = v => Math.pow(10, v);
const xs = pts => pts.map(p => pow10(p[0]));
const ys = pts => pts.map(p => pow10(p[1]));
const axName = (k, p) => p === 0 ? k : k + (p + 1);

const traces = [];
const layout = {
  width: W, height: H, margin: { l: 0, r: 0, t: 0, b: 0 },
  paper_bgcolor: '#fff', plot_bgcolor: '#fff',
  font: { family: FONT, size: 16, color: '#000' },
  showlegend: true, annotations: []
};

rows.forEach((row, r) => {
  for (let c = 0; c < 4; c++) {
    const p = r * 4 + c;
    const xa = axName('x', p), ya = axName('y', p);
    // shaded T > 100 K zone
    traces.push({
      x: [pow10(1.0), pow10(hotEdge[c]), pow10(hotEdge[c]), pow10(1.0), pow10(1.0)],
      y: [1e-14, 1e-14, 1e-1, 1e-1, 1e-14], xaxis: xa, yaxis: ya,
      mode: 'lines', fill: 'toself', fillcolor: '#cbcbcb', line: { width: 0 },
      showlegend: false, hoverinfo: 'skip'
    });
    row.species.forEach(s => {
      const ice = s.ice[c];
      if (ice.length) traces.push({
        x: xs(ice), y: ys(ice), xaxis: xa, yaxis: ya, mode: 'lines',
        line: { color: s.color, width: 1.3, dash: 'dash' }, showlegend: false, hoverinfo: 'skip'
      });
    });
    row.species.forEach(s => {
      const g = s.gas[c];
      traces.push({
        x: xs(g), y: ys(g), xaxis: xa, yaxis: ya, mode: 'lines+markers', name: s.name,
        line: { color: s.color, width: 1.5 },
        marker: { symbol: s.symbol, size: s.size, color: s.color, line: { color: s.color, width: s.symbol === 'cross-thin' ? 1.6 : 0 } },
        showlegend: c === 0, legend: r === 0 ? 'legend' : 'legend' + (r + 1)
      });
    });
    const xd = [colPx[c][0] / W, colPx[c][1] / W];
    const yd = [1 - rowPx[r][1] / H, 1 - rowPx[r][0] / H];
    layout[axName('xaxis', p)] = {
      type: 'log', range: rRange, domain: xd, anchor: ya,
      showline: true, linecolor: '#000', linewidth: 1.2, mirror: r === 0 ? true : 'allticks',
      ticks: 'inside', ticklen: 5, tickwidth: 1, tickcolor: '#000', dtick: 1,
      showticklabels: r === 2, exponentformat: 'power', tickfont: { size: 16 },
      showgrid: false, zeroline: false,
      minor: { ticks: 'inside', ticklen: 3, tickwidth: 0.8, tickcolor: '#000', showgrid: false }
    };
    layout[axName('yaxis', p)] = {
      type: 'log', range: row.yRange, domain: yd, anchor: xa,
      showline: true, linecolor: '#000', linewidth: 1.2, mirror: 'allticks',
      ticks: 'inside', ticklen: 5, tickwidth: 1, tickcolor: '#000', dtick: 1,
      showticklabels: c === 0, exponentformat: 'power', tickfont: { size: 16 },
      showgrid: false, zeroline: false
    };
  }
});

// top temperature axes of row 1
for (let c = 0; c < 4; c++) {
  const n = 13 + c;
  traces.push({ x: [1000], y: [1e-30], xaxis: 'x' + n, yaxis: axName('y', c), mode: 'markers',
    marker: { opacity: 0 }, showlegend: false, hoverinfo: 'skip' });
  layout['xaxis' + n] = {
    type: 'log', range: rRange, overlaying: axName('x', c), anchor: axName('y', c), side: 'top',
    tickmode: 'array', tickvals: tempRadius[c].map(pow10), ticktext: tempTicks.map(String),
    ticks: 'inside', ticklen: 5, tickcolor: '#000', showline: false, showgrid: false, zeroline: false,
    tickfont: { size: 17 }
  };
  const cx = (colPx[c][0] + colPx[c][1]) / 2;
  const ann = (text, x, y, size) => layout.annotations.push({ text, x: x / W, y: 1 - y / H, xref: 'paper', yref: 'paper',
    xanchor: 'center', yanchor: 'middle', showarrow: false, font: { size } });
  ann('<i>T</i> (K)', cx, 22, 17);
  ann('<i>r</i> (AU)', cx, 986, 17);
  ann(timeLabels[c], cx + 5, 79, 18);
}
rows.forEach((row, r) => {
  const cy = (rowPx[r][0] + rowPx[r][1]) / 2;
  layout.annotations.push({ text: 'Abundance', x: 20 / W, y: 1 - cy / H, xref: 'paper', yref: 'paper',
    xanchor: 'center', yanchor: 'middle', showarrow: false, textangle: -90, font: { size: 17 } });
});

const legendBase = { bgcolor: 'rgba(255,255,255,0.85)', bordercolor: '#cccccc', borderwidth: 1, font: { size: 12, family: FONT }, tracegroupgap: 0, itemwidth: 30, xref: 'paper', yref: 'paper' };
layout.legend = Object.assign({}, legendBase, { x: 402 / W, xanchor: 'right', y: 1 - 338 / H, yanchor: 'bottom' });
layout.legend2 = Object.assign({}, legendBase, { x: 398 / W, xanchor: 'right', y: 1 - 369 / H, yanchor: 'top' });
layout.legend3 = Object.assign({}, legendBase, { x: 398 / W, xanchor: 'right', y: 1 - 671 / H, yanchor: 'top' });

Plotly.newPlot('chart', traces, layout, { staticPlot: true, displayModeBar: false });
</script>
</body></html>
